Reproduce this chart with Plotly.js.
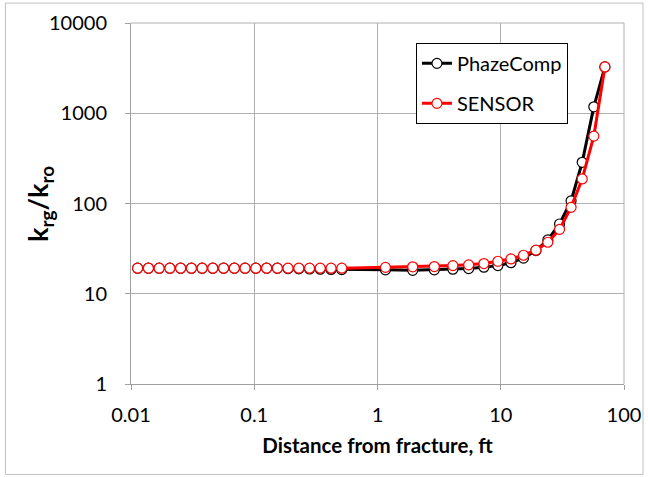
<!DOCTYPE html>
<html>
<head>
<meta charset="utf-8">
<script src="https://cdn.plot.ly/plotly-3.0.1.min.js"></script>
<style>
html,body{margin:0;padding:0;background:#fff;}
#chart{width:648px;height:477px;}
</style>
</head>
<body>
<div id="chart"></div>
<script>
// Distance from fracture, ft (shared by both series)
const distance = [0.01132, 0.01384, 0.01692, 0.02067, 0.02528, 0.0309, 0.03776, 0.0461, 0.0564, 0.0689,
  0.0842, 0.103, 0.126, 0.154, 0.188, 0.230, 0.281, 0.343, 0.420, 0.513,
  1.16, 1.93, 2.89, 4.09, 5.49, 7.30, 9.48, 12.1, 15.3, 19.3, 24.1, 30.0, 37.2, 45.8, 56.9, 70.0];

// krg/kro - PhazeComp
const phazeComp = [19.2, 19.2, 19.2, 19.2, 19.2, 19.2, 19.2, 19.2, 19.2, 19.2,
  19.2, 19.2, 19.2, 19.2, 19.0, 18.9, 18.8, 18.7, 18.6, 18.5,
  18.4, 18.2, 18.4, 18.7, 19.0, 19.7, 20.5, 22.1, 24.8, 30.1, 39.5, 59.3, 107, 286, 1178, 3260];

// krg/kro - SENSOR
const sensor = [19.2, 19.2, 19.2, 19.2, 19.2, 19.2, 19.2, 19.2, 19.2, 19.2,
  19.2, 19.2, 19.2, 19.2, 19.2, 19.2, 19.2, 19.2, 19.2, 19.2,
  19.6, 19.9, 20.0, 20.5, 20.9, 21.6, 22.9, 24.3, 26.7, 30.4, 37.2, 51.8, 90.7, 187, 558, 3260];

const seriesNames = ['PhazeComp', 'SENSOR'];
const xTickVals = [0.01, 0.1, 1, 10, 100];
const xTickText = ['0.01', '0.1', '1', '10', '100'];
const yTickVals = [1, 10, 100, 1000, 10000];
const yTickText = ['1', '10', '100', '1000', '10000'];
const xTitle = 'Distance from fracture, ft';
const yTitle = 'k<sub>rg</sub>/k<sub>ro</sub>';

const FONT = 'Lato, "Open Sans", sans-serif';

const traces = [
  {
    x: distance, y: phazeComp, name: seriesNames[0], type: 'scatter', mode: 'lines+markers',
    legendgroup: 'a',
    line: {color: '#000000', width: 3},
    marker: {symbol: 'circle', size: 10, color: '#ffffff', line: {color: '#000000', width: 1.2}}
  },
  {
    x: distance, y: sensor, name: seriesNames[1], type: 'scatter', mode: 'lines+markers',
    legendgroup: 'b',
    line: {color: '#ff0000', width: 3},
    marker: {symbol: 'circle', size: 10, color: '#ffffff', line: {color: '#ff0000', width: 1.2}}
  }
];

const layout = {
  width: 648, height: 477,
  margin: {l: 130.6, r: 24.4, t: 22.7, b: 92.7, pad: 0},
  paper_bgcolor: '#ffffff', plot_bgcolor: '#ffffff',
  font: {family: FONT, size: 20, color: '#000000'},
  showlegend: true,
  legend: {
    x: 0.578, y: 0.945, xanchor: 'left', yanchor: 'top',
    bgcolor: '#ffffff', bordercolor: '#000000', borderwidth: 1,
    font: {family: FONT, size: 20, color: '#000000'},
    tracegroupgap: 11
  },
  xaxis: {
    type: 'log', range: [-2, 2],
    tickvals: xTickVals, ticktext: xTickText,
    showgrid: true, gridcolor: '#b0b0b0', gridwidth: 1,
    showline: true, linecolor: '#a0a0a0', linewidth: 1, mirror: false,
    ticks: 'outside', ticklen: 5, tickcolor: '#a0a0a0',
    ticklabelstandoff: 8,
    zeroline: false,
    tickfont: {family: FONT, size: 20, color: '#000000'},
    title: {text: '<b>' + xTitle + '</b>', font: {family: FONT, size: 20.5, color: '#000000'}, standoff: 13}
  },
  yaxis: {
    type: 'log', range: [0, 4],
    tickvals: yTickVals, ticktext: yTickText,
    showgrid: true, gridcolor: '#b0b0b0', gridwidth: 1,
    showline: true, linecolor: '#a0a0a0', linewidth: 1,
    ticks: 'outside', ticklen: 5, tickcolor: '#a0a0a0',
    ticklabelstandoff: 14,
    zeroline: false,
    tickfont: {family: FONT, size: 20, color: '#000000'}
  },
  annotations: [
    {text: '<b>' + yTitle + '</b>', xref: 'paper', yref: 'paper',
     x: (39 - 130.6) / 493, y: 0.5, xanchor: 'center', yanchor: 'middle',
     textangle: -90, showarrow: false,
     font: {family: FONT, size: 27, color: '#000000'}}
  ],
  shapes: [
    {type: 'rect', xref: 'paper', yref: 'paper',
     x0: (5 - 130.6) / 493, x1: (642.6 - 130.6) / 493,
     y0: (384.3 - 475) / 361.6, y1: (384.3 - 2.7) / 361.6,
     line: {color: '#c0c0c0', width: 1}, fillcolor: 'rgba(0,0,0,0)', layer: 'below'},
    {type: 'line', xref: 'paper', yref: 'paper', x0: 1, x1: 1, y0: 0, y1: 1,
     line: {color: '#b0b0b0', width: 1}, layer: 'below'},
    {type: 'line', xref: 'paper', yref: 'paper', x0: 0, x1: 1, y0: 1, y1: 1,
     line: {color: '#b0b0b0', width: 1}, layer: 'below'}
  ]
};

Plotly.newPlot('chart', traces, layout, {staticPlot: true, displayModeBar: false});
</script>
</body>
</html>
